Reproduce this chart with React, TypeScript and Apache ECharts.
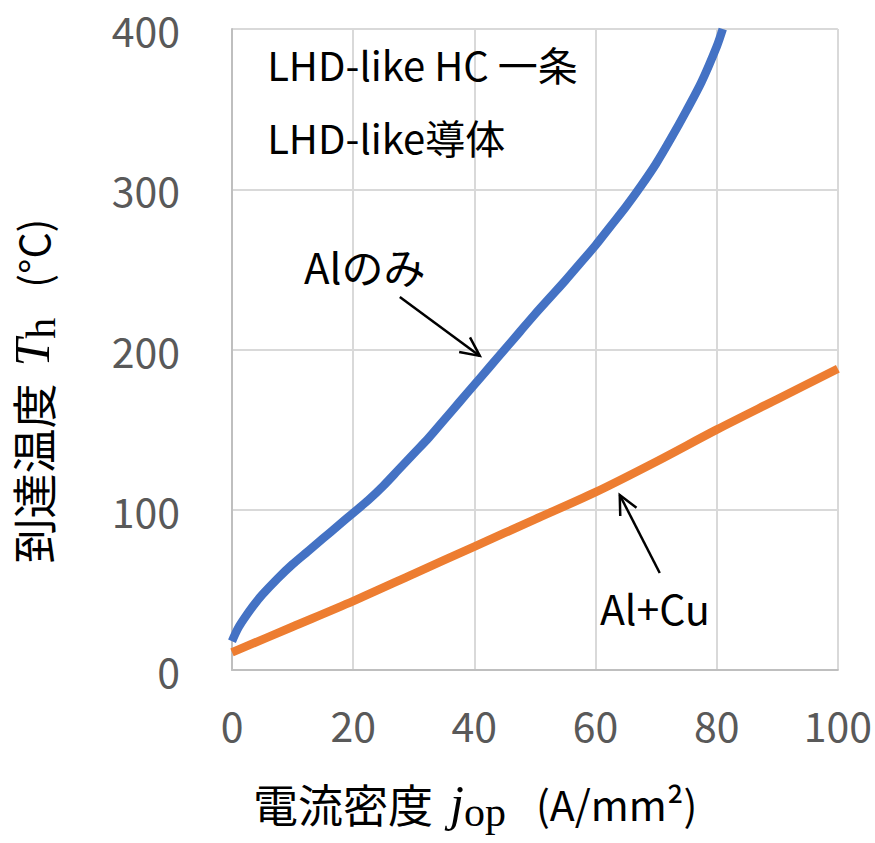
import React, { useEffect, useRef } from 'react';
import * as echarts from 'echarts';

// Current density j_op (A/mm2) and reached temperature T_h (°C)
const alOnlyJ = [0, 1, 2, 3.5, 5, 7.5, 10, 12.5, 15, 17.5, 20, 22.5, 25, 27.5, 30, 32.5, 35, 37.5, 40,
  42.5, 45, 47.5, 50, 52.5, 55, 57.5, 60, 62.5, 65, 67.5, 70, 72.5, 75, 77.5, 80, 81];
const alOnlyT = [18, 26, 32, 40, 47, 57, 66, 74, 82, 90, 98, 106, 115, 125, 135, 145, 156, 167, 178,
  189, 200, 211, 222, 232.5, 243, 254, 265, 277, 289, 302, 316, 332, 349, 367, 389, 400];
const alCuJ = [0, 10, 20, 30, 40, 50, 60, 70, 80, 90, 100];
const alCuT = [11, 27, 43, 60, 77, 94, 111, 130, 150, 169, 188];

const xMin = 0, xMax = 100, xStep = 20;
const yMin = 0, yMax = 400, yStep = 100;

const seriesNames = ['Alのみ', 'Al+Cu'];
const seriesColors = ['#4472C4', '#ED7D31'];

// annotation anchors in data coordinates [j, T]
const labelAlOnly = [21.9, 252.5];
const arrowAlOnly = [[27.7, 232.8], [40.9, 196]];
const labelAlCu = [69.8, 39.5];
const arrowAlCu = [[70.6, 60.5], [64.0, 109.2]];
const titleLines = ['LHD-like HC 一条', 'LHD-like導体'];
const titleAnchors = [[5.8, 378], [5.8, 332.6]];

const SANS = "'Noto Sans CJK JP', 'Noto Sans', sans-serif";
const SERIF = "'Liberation Serif', 'DejaVu Serif', serif";

const nameRich = {
  c: { fontSize: 45, fontFamily: SANS, lineHeight: 60, fill: '#000' },
  i: { fontSize: 50, fontFamily: SERIF, fontStyle: 'italic', lineHeight: 60, fill: '#000', padding: [0, 0, 0, 17] },
  s: { fontSize: 42, fontFamily: SERIF, lineHeight: 44, verticalAlign: 'bottom', fill: '#000' },
  n: { fontSize: 41, fontFamily: SANS, lineHeight: 60, fill: '#000', padding: [0, 0, 0, 30] },
};

export default function App() {
  const ref = useRef<HTMLDivElement>(null);
  useEffect(() => {
    document.body.style.margin = '0';
    const chart = echarts.init(ref.current!, undefined, { renderer: 'svg' });
    const option: any = {
      animation: false,
      backgroundColor: '#ffffff',
      grid: { left: 232, top: 29, right: 37, bottom: 173, containLabel: false },
      xAxis: {
        type: 'value', min: xMin, max: xMax, interval: xStep,
        axisLine: { show: true, lineStyle: { color: '#bfbfbf', width: 2 } },
        axisTick: { show: false },
        splitLine: { show: true, lineStyle: { color: '#d9d9d9', width: 2 } },
        axisLabel: { color: '#595959', fontSize: 41, fontFamily: SANS, margin: 33 },
      },
      yAxis: {
        type: 'value', min: yMin, max: yMax, interval: yStep,
        axisLine: { show: true, lineStyle: { color: '#bfbfbf', width: 2 } },
        axisTick: { show: false },
        splitLine: { show: true, lineStyle: { color: '#d9d9d9', width: 2 } },
        axisLabel: { color: '#595959', fontSize: 41, fontFamily: SANS, margin: 52 },
      },
      series: [
        {
          name: seriesNames[0], type: 'line', smooth: 0.3, showSymbol: false,
          data: alOnlyJ.map((j, i) => [j, alOnlyT[i]]),
          lineStyle: { color: seriesColors[0], width: 8.5 },
          itemStyle: { color: seriesColors[0] },
        },
        {
          name: seriesNames[1], type: 'line', smooth: 0.3, showSymbol: false,
          data: alCuJ.map((j, i) => [j, alCuT[i]]),
          lineStyle: { color: seriesColors[1], width: 8.5 },
          itemStyle: { color: seriesColors[1] },
        },
      ],
    };
    chart.setOption(option);

    const px = (p: number[]) => chart.convertToPixel({ gridIndex: 0 }, p) as number[];
    const arrow = (from: number[], to: number[]) => {
      const a = px(from), b = px(to);
      const ang = Math.atan2(b[1] - a[1], b[0] - a[0]);
      const L = 21, th = 0.45;
      const h1 = [b[0] - L * Math.cos(ang - th), b[1] - L * Math.sin(ang - th)];
      const h2 = [b[0] - L * Math.cos(ang + th), b[1] - L * Math.sin(ang + th)];
      return [
        { type: 'line', shape: { x1: a[0], y1: a[1], x2: b[0], y2: b[1] }, style: { stroke: '#000', lineWidth: 2.5 } },
        { type: 'polyline', shape: { points: [h1, b, h2] }, style: { stroke: '#000', lineWidth: 2.5, fill: 'none' } },
      ];
    };
    const txt = (p: number[], text: string, align: string, size: number) => {
      const q = px(p);
      return {
        type: 'text', x: q[0], y: q[1],
        style: { text, fontSize: size, fontFamily: SANS, fill: '#000', align, verticalAlign: 'middle' },
      };
    };

    const graphic: any[] = [
      txt(titleAnchors[0], titleLines[0], 'left', 40),
      txt(titleAnchors[1], titleLines[1], 'left', 40),
      txt(labelAlOnly, seriesNames[0], 'center', 42),
      txt(labelAlCu, seriesNames[1], 'center', 41),
      ...arrow(arrowAlOnly[0], arrowAlOnly[1]),
      ...arrow(arrowAlCu[0], arrowAlCu[1]),
      {
        type: 'text', x: 253, y: 803,
        style: {
          text: '{c|電流密度}{i|j}{s|op}{n|(A/mm²)}',
          fontSize: 45, fontFamily: SANS, fill: '#000', align: 'left', verticalAlign: 'middle',
          rich: nameRich,
        },
      },
      {
        type: 'text', x: 32, y: 391, rotation: Math.PI / 2,
        style: {
          text: '{c|到達温度}{i|T}{s|h}{n|(°C)}',
          fontSize: 45, fontFamily: SANS, fill: '#000', align: 'center', verticalAlign: 'middle',
          rich: nameRich,
        },
      },
    ];
    chart.setOption({ graphic });
    return () => chart.dispose();
  }, []);
  return <div ref={ref} style={{ position: 'fixed', left: 0, top: 0, width: 875, height: 843 }} />;
}
